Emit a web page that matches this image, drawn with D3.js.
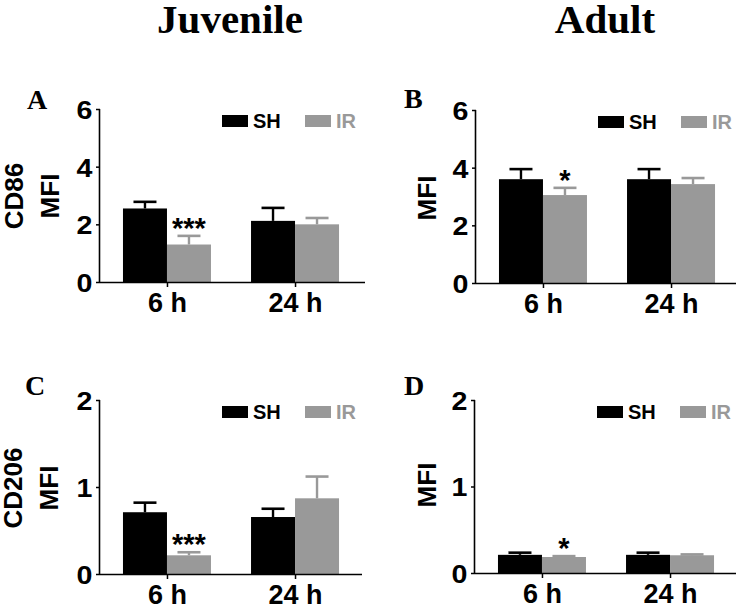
<!DOCTYPE html>
<html><head><meta charset="utf-8">
<script src="https://cdn.jsdelivr.net/npm/d3@7"></script>
<style>body{margin:0;background:#fff}svg{display:block}</style>
</head><body>
<svg id="c" width="736" height="607"></svg>
<script>
const groups = ["6 h", "24 h"];
const seriesNames = ["SH", "IR"];
const columnTitles = ["Juvenile", "Adult"];
const panelLetters = ["A", "B", "C", "D"];
const yTitles = [["CD86", "MFI"], ["MFI"], ["CD206", "MFI"], ["MFI"]];
const yMax = [6, 6, 2, 2];
const yTicks = [[0, 2, 4, 6], [0, 2, 4, 6], [0, 1, 2], [0, 1, 2]];
// means and SEM (upper) per panel, per group
const A_SH = [2.55, 2.12], A_SH_err = [0.23, 0.45];
const A_IR = [1.30, 2.00], A_IR_err = [0.30, 0.22];
const B_SH = [3.60, 3.60], B_SH_err = [0.35, 0.35];
const B_IR = [3.05, 3.43], B_IR_err = [0.25, 0.21];
const C_SH = [0.71, 0.655], C_SH_err = [0.11, 0.095];
const C_IR = [0.215, 0.87], C_IR_err = [0.035, 0.25];
const D_SH = [0.21, 0.21], D_SH_err = [0.025, 0.025];
const D_IR = [0.185, 0.205], D_IR_err = [0.01, 0.01];
const signif = [["***", ""], ["*", ""], ["***", ""], ["*", ""]];

const panelsData = [
  {SH: A_SH, SHe: A_SH_err, IR: A_IR, IRe: A_IR_err},
  {SH: B_SH, SHe: B_SH_err, IR: B_IR, IRe: B_IR_err},
  {SH: C_SH, SHe: C_SH_err, IR: C_IR, IRe: C_IR_err},
  {SH: D_SH, SHe: D_SH_err, IR: D_IR, IRe: D_IR_err}
];
const colors = {SH: "#000000", IR: "#999999"};

// layout
const geo = [
  {x: 100, top: 109, bottom: 282, w: 265, lx: 27, ly: 109, tx: [14, 50], tyc: 196},
  {x: 476, top: 110, bottom: 283, w: 265, lx: 404, ly: 108, tx: [427], tyc: 198},
  {x: 100, top: 400, bottom: 574, w: 262, lx: 25, ly: 395, tx: [13, 49], tyc: 488},
  {x: 475, top: 400, bottom: 573, w: 265, lx: 404, ly: 395, tx: [427], tyc: 485}
];

const svg = d3.select("#c");
const sans = "'Liberation Sans', Arial, sans-serif";
const serif = "'Liberation Serif', 'Times New Roman', serif";

svg.selectAll("text.coltitle").data(columnTitles).join("text")
  .attr("class", "coltitle")
  .attr("x", (d, i) => i === 0 ? 230 : 605)
  .attr("y", 33)
  .attr("text-anchor", "middle")
  .attr("font-family", serif).attr("font-weight", "bold").attr("font-size", 41)
  .text(d => d);

panelsData.forEach((pd, p) => {
  const g = geo[p];
  const y = d3.scaleLinear().domain([0, yMax[p]]).range([g.bottom, g.top]);
  const x0 = d3.scalePoint().domain(groups).range([g.x, g.x + 262]).padding(0.523);
  const x1 = d3.scaleBand().domain(seriesNames).range([-44, 44]);
  const gp = svg.append("g");

  // bars
  seriesNames.forEach(s => {
    const vals = pd[s], errs = pd[s + "e"];
    groups.forEach((grp, i) => {
      const bx = x0(grp) + x1(s);
      const bw = x1.bandwidth();
      const cx = bx + bw / 2;
      const top = y(vals[i] + errs[i]);
      gp.append("line").attr("x1", cx).attr("x2", cx)
        .attr("y1", y(vals[i])).attr("y2", top)
        .attr("stroke", colors[s]).attr("stroke-width", 2.4);
      gp.append("line").attr("x1", cx - 11.5).attr("x2", cx + 11.5)
        .attr("y1", top).attr("y2", top)
        .attr("stroke", colors[s]).attr("stroke-width", 2.6);
      gp.append("rect").attr("x", bx).attr("width", bw)
        .attr("y", y(vals[i])).attr("height", y(0) - y(vals[i]))
        .attr("fill", colors[s]);
      if (s === "IR" && signif[p][i]) {
        gp.append("text").attr("x", cx).attr("y", top + 2)
          .attr("text-anchor", "middle")
          .attr("font-family", sans).attr("font-weight", "bold").attr("font-size", 29)
          .text(signif[p][i]);
      }
    });
  });

  // y axis
  const ya = gp.append("g").attr("transform", `translate(${g.x},0)`)
    .call(d3.axisLeft(y).tickValues(yTicks[p]).tickSize(4).tickPadding(3).tickFormat(d3.format("d")));
  ya.select(".domain").attr("stroke-width", 1.6).attr("d", `M-0.5,${g.bottom}V${g.top}`);
  ya.selectAll(".tick line").attr("stroke-width", 1.5);
  ya.selectAll("text").attr("font-family", sans).attr("font-weight", "bold")
    .attr("font-size", 26).attr("fill", "#000").attr("dy", "0.36em")
    .attr("transform", "scale(1.1,1)");

  // x axis
  const xa = gp.append("g").attr("transform", `translate(0,${g.bottom})`)
    .call(d3.axisBottom(x0).tickSize(5).tickPadding(6));
  xa.select(".domain").attr("stroke-width", 1.6).attr("d", `M${g.x},0.5H${g.x + g.w}`);
  xa.selectAll(".tick line").attr("stroke-width", 1.5);
  xa.selectAll("text").attr("font-family", sans).attr("font-weight", "bold")
    .attr("font-size", 27).attr("fill", "#000").attr("dy", "0.72em");

  // legend
  seriesNames.forEach((s, k) => {
    const lx = g.x + 122 + k * 83;
    gp.append("rect").attr("x", lx).attr("y", g.top + 6).attr("width", 26).attr("height", 12)
      .attr("fill", colors[s]);
    gp.append("text").attr("x", lx + 31).attr("y", g.top + 19)
      .attr("font-family", sans).attr("font-weight", "bold").attr("font-size", 20)
      .attr("fill", colors[s]).text(s);
  });

  // panel letter
  gp.append("text").attr("x", g.lx).attr("y", g.ly)
    .attr("font-family", serif).attr("font-weight", "bold").attr("font-size", 28)
    .text(panelLetters[p]);

  // y titles
  yTitles[p].forEach((t, k) => {
    gp.append("text")
      .attr("transform", `translate(${g.tx[k]},${g.tyc}) rotate(-90)`)
      .attr("text-anchor", "middle").attr("dominant-baseline", "central")
      .attr("font-family", sans).attr("font-weight", "bold").attr("font-size", 26)
      .text(t);
  });
});
</script>
</body></html>
